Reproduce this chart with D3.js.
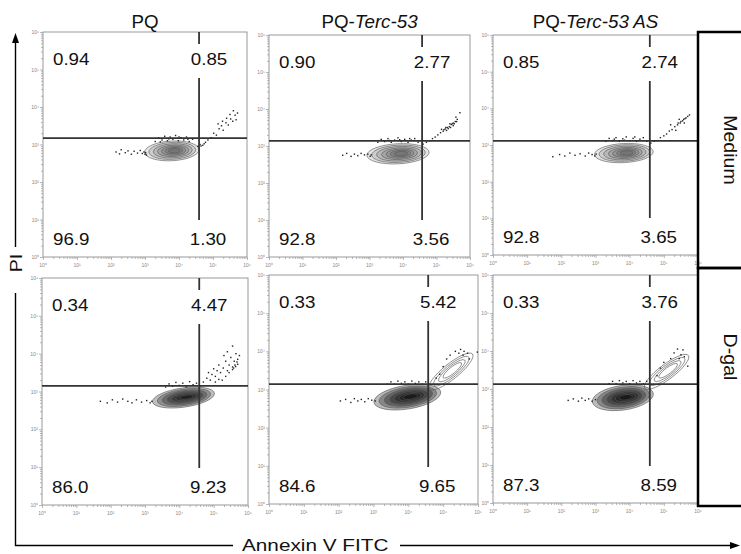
<!DOCTYPE html>
<html><head><meta charset="utf-8">
<script src="https://cdn.jsdelivr.net/npm/d3@7"></script>
<style>body{margin:0;background:#fff}svg{display:block}</style>
</head><body><svg id="c" width="741" height="554"></svg>
<script>
// ================= DATA (log10 decades) =================
const columnsPlain  = ["PQ", "PQ-", "PQ-"];
const columnsItalic = ["", "Terc-53", "Terc-53 AS"];
const rowLabels = ["Medium", "D-gal"];
const xAxisTitle = "Annexin V FITC";
const yAxisTitle = "PI";
const decades = [0, 1, 2, 3, 4, 5, 6];
const tickLabels = ["10⁰", "10¹", "10²", "10³", "10⁴", "10⁵", "10⁶"];
// panel order: Medium PQ, Medium PQ-Terc-53, Medium PQ-Terc-53 AS, D-gal PQ, D-gal PQ-Terc-53, D-gal PQ-Terc-53 AS
const quadUL = ["0.94", "0.90", "0.85", "0.34", "0.33", "0.33"];
const quadUR = ["0.85", "2.77", "2.74", "4.47", "5.42", "3.76"];
const quadLL = ["96.9", "92.8", "92.8", "86.0", "84.6", "87.3"];
const quadLR = ["1.30", "3.56", "3.65", "9.23", "9.65", "8.59"];
const gateX = [4.59, 4.57, 4.59, 4.58, 4.57, 4.59];
const gateY = [3.17, 3.14, 3.11, 3.15, 3.14, 3.13];
// main population contour: [centre x, centre y, half-width, half-height, tilt deg]
const mainPop = [
  [3.79, 2.83, 0.80, 0.29, -3],
  [3.85, 2.79, 0.93, 0.30, -3],
  [3.83, 2.78, 0.86, 0.28, -3],
  [4.12, 2.84, 0.91, 0.28, -8],
  [3.97, 2.80, 0.97, 0.34, -9],
  [3.80, 2.77, 0.90, 0.36, -8]
];
// second (late apoptotic) population
const lobePop = [null, null, null, null,
  [5.22, 3.47, 0.80, 0.22, -39],
  [5.08, 3.45, 0.80, 0.22, -37]
];
const dotsA = [[2.15,2.8],[2.25,2.75],[2.3,2.86],[2.42,2.78],[2.5,2.83],[2.6,2.74],[2.68,2.82],[2.78,2.77],[2.86,2.84],[2.92,2.76],[2.97,2.8],[3.0,2.74],[3.02,2.78],[3.04,2.72],
  [3.3,3.08],[3.4,3.18],[3.5,3.12],[3.58,3.22],[3.66,3.1],[3.74,3.2],[3.82,3.14],[3.9,3.24],[3.98,3.1],[4.06,3.18],[4.14,3.12],[4.22,3.2],[4.3,3.08],[4.4,3.14],[3.45,3.07],[3.7,3.15],[4.0,3.2],[4.26,3.14],
  [4.55,2.95],[4.62,3.0],[4.65,2.96],[4.7,2.98],[4.74,3.02],[4.78,3.06],[4.85,3.12],[4.95,3.18],[5.02,3.3],[5.1,3.25],[5.18,3.42],[5.25,3.5],[5.3,3.38],[5.38,3.58],[5.45,3.52],[5.52,3.68],[5.58,3.62],[5.65,3.78],[5.72,3.84],[5.6,3.9],[5.4,3.7],[5.28,3.62],[5.15,3.55],[5.5,3.8],[5.68,3.66]];
const dotsB = [[2.2,2.75],[2.32,2.8],[2.45,2.72],[2.55,2.78],[2.65,2.74],[2.75,2.8],[2.85,2.76],[2.95,2.78],[3.02,2.72],[3.05,2.76],
  [3.25,3.1],[3.35,3.18],[3.45,3.12],[3.55,3.2],[3.65,3.1],[3.75,3.16],[3.85,3.22],[3.95,3.12],[4.05,3.18],[4.15,3.1],[4.25,3.16],[4.35,3.2],[4.45,3.1],[3.6,3.15],[3.9,3.17],[4.2,3.2],
  [4.6,3.05],[4.7,3.1],[4.8,3.14],[4.88,3.2],[4.96,3.24],[5.04,3.3],[5.12,3.36],[5.2,3.4],[5.26,3.46],[5.32,3.5],[5.38,3.52],[5.44,3.58],[5.5,3.62],[5.56,3.66],[5.62,3.72],[5.3,3.42],[5.4,3.6],[5.5,3.55],[5.15,3.45],[5.58,3.78],[5.7,3.9],
  [5.35,3.47],[5.42,3.5],[5.47,3.6],[5.53,3.6],[5.6,3.66],[5.28,3.5],[5.22,3.44]];
const dotsC = [[1.75,2.68],[1.95,2.74],[2.1,2.7],[2.25,2.78],[2.4,2.72],[2.55,2.76],[2.7,2.7],[2.8,2.78],[2.9,2.74],[2.98,2.7],[3.02,2.75],
  [3.3,3.1],[3.4,3.18],[3.5,3.12],[3.6,3.2],[3.7,3.1],[3.8,3.17],[3.9,3.22],[4.0,3.12],[4.1,3.18],[4.2,3.1],[4.3,3.16],[4.4,3.2],[4.5,3.1],[3.55,3.16],[3.85,3.13],[4.15,3.22],
  [4.62,3.05],[4.72,3.1],[4.82,3.12],[4.9,3.2],[5.0,3.25],[5.08,3.3],[5.16,3.38],[5.24,3.42],[5.32,3.5],[5.4,3.55],[5.48,3.6],[5.55,3.66],[5.62,3.72],[5.7,3.78],[5.75,3.82],[5.45,3.7],[5.6,3.6],[5.35,3.4],[5.2,3.55],
  [5.42,3.6],[5.5,3.64],[5.58,3.7],[5.65,3.74]];
const dotsD = [[1.7,2.74],[1.9,2.7],[2.05,2.78],[2.2,2.72],[2.35,2.8],[2.5,2.74],[2.62,2.7],[2.75,2.78],[2.9,2.72],[3.05,2.76],[3.15,2.7],[3.2,2.74],
  [3.6,3.12],[3.7,3.2],[3.8,3.14],[3.9,3.24],[4.0,3.16],[4.1,3.22],[4.2,3.12],[4.3,3.26],[4.4,3.18],[4.5,3.22],[4.6,3.14],
  [4.7,3.25],[4.8,3.35],[4.9,3.3],[4.95,3.45],[5.05,3.4],[5.1,3.55],[5.15,3.7],[5.2,3.5],[5.28,3.62],[5.35,3.8],[5.4,3.55],[5.45,3.7],[5.5,3.9],[5.55,3.65],[5.6,3.8],[5.65,4.0],[5.7,3.85],[5.75,3.95],[5.3,3.95],[5.4,4.05],[5.0,3.6],[4.85,3.5],[5.25,3.3],[5.35,3.4],[5.45,3.5],[5.55,3.58],[5.62,3.7],[5.68,3.78],[5.55,4.2],
  [5.05,3.25],[5.15,3.32],[5.58,3.62],[5.64,3.66],[5.7,3.72]];
const dotsE = [[2.05,2.7],[2.2,2.74],[2.35,2.66],[2.45,2.76],[2.55,2.7],[2.65,2.74],[2.75,2.68],[2.85,2.76],[2.95,2.72],[3.05,2.7],
  [3.4,3.14],[3.5,3.2],[3.6,3.14],[3.7,3.22],[3.8,3.16],[3.9,3.2],[4.0,3.14],[4.1,3.22],[4.2,3.16],[4.3,3.2],[4.4,3.14],[4.5,3.2],
  [5.2,3.9],[5.35,4.0],[5.5,4.05],[5.6,4.0],[5.7,3.95],[5.1,3.8],[5.0,3.6],[5.45,3.95],[5.75,3.8],[4.9,3.4],[4.8,3.3],[5.57,3.9],[5.98,3.98]];
const dotsF = [[2.2,2.7],[2.35,2.74],[2.5,2.68],[2.6,2.76],[2.7,2.7],[2.8,2.74],[2.9,2.68],[3.0,2.72],
  [3.4,3.14],[3.5,3.2],[3.6,3.14],[3.7,3.22],[3.8,3.16],[3.9,3.2],[4.0,3.14],[4.1,3.22],[4.2,3.16],[4.3,3.2],[4.4,3.14],[4.5,3.2],
  [5.3,3.95],[5.4,4.05],[5.5,3.9],[5.56,4.03],[5.6,3.85],[5.0,3.7],[5.2,3.8],[4.9,3.55],[5.7,3.6],[5.45,3.8],[4.8,3.35]];
const dotSets = [dotsA, dotsB, dotsC, dotsD, dotsE, dotsF];

// ================= LAYOUT / STYLE =================
const panelBoxes = [
  [43, 32, 247, 257], [269, 35, 470, 257], [493, 35, 698, 255],
  [42, 278, 248, 505], [269, 275, 478, 504], [493, 275, 698, 503]
];
const ringFill = [0.1, 0.1, 0.1, 0.25, 0.27, 0.27];
const FONT = "'Liberation Sans', Arial, Helvetica, sans-serif";
const svg = d3.select("#c");

function stretch(sel, f) {
  sel.each(function () {
    const w = this.getComputedTextLength();
    this.setAttribute("textLength", w * f);
    this.setAttribute("lengthAdjust", "spacingAndGlyphs");
  });
}

const minorVals = [];
decades.slice(0, 6).forEach(d => [2,3,4,5,6,7,8,9].forEach(k => minorVals.push(d + Math.log10(k))));

panelBoxes.forEach((b, i) => {
  const [L, T, R, B] = b;
  const x = d3.scaleLinear().domain([0, 6]).range([L, R]);
  const y = d3.scaleLinear().domain([0, 6]).range([B, T]);
  const g = svg.append("g");

  const axes = [
    [d3.axisBottom(x).tickValues(minorVals).tickSize(2).tickFormat(""), `translate(0,${B})`],
    [d3.axisBottom(x).tickValues(decades).tickSize(3).tickFormat(""), `translate(0,${B})`],
    [d3.axisLeft(y).tickValues(minorVals).tickSize(2).tickFormat(""), `translate(${L},0)`],
    [d3.axisLeft(y).tickValues(decades).tickSize(3).tickFormat(""), `translate(${L},0)`]
  ];
  axes.forEach(([ax, tr]) => {
    const a = g.append("g").attr("transform", tr).call(ax);
    a.select(".domain").remove();
    a.selectAll("line").attr("stroke", "#888").attr("stroke-width", 0.6);
  });
  g.selectAll(".xl").data(decades).join("text")
    .attr("x", d => x(d)).attr("y", B + 10).attr("text-anchor", "middle")
    .attr("font-size", 5).attr("fill", "#888").attr("font-family", FONT)
    .text((d, j) => tickLabels[j]);
  g.selectAll(".yl").data(decades).join("text")
    .attr("x", L - 4).attr("y", d => y(d) + 2).attr("text-anchor", "end")
    .attr("font-size", 5).attr("fill", "#888").attr("font-family", FONT)
    .text((d, j) => tickLabels[j]);

  g.append("rect").attr("x", L).attr("y", T).attr("width", R - L).attr("height", B - T)
    .attr("fill", "none").attr("stroke", "#999").attr("stroke-width", 1);

  const drawPop = (p, scales, fillA) => {
    const [cx, cy, rx, ry, rot] = p;
    const px = x(cx), py = y(cy);
    const prx = x(cx + rx) - px, pry = (x(cx + ry) - x(cx));
    scales.forEach(s => {
      g.append("ellipse").attr("cx", px + (1 - s) * prx * 0.12).attr("cy", py)
        .attr("rx", prx * s).attr("ry", pry * s)
        .attr("transform", `rotate(${rot},${px},${py})`)
        .attr("fill", "#000").attr("fill-opacity", fillA)
        .attr("stroke", "#555").attr("stroke-width", 0.6);
    });
  };
  drawPop(mainPop[i], [1, 0.86, 0.72, 0.58, 0.45, 0.33, 0.22], ringFill[i]);
  if (lobePop[i]) drawPop(lobePop[i], [1, 0.8, 0.6, 0.42], 0);

  g.selectAll(".dot").data(dotSets[i]).join("rect")
    .attr("x", d => x(d[0]) - 0.7).attr("y", d => y(d[1]) - 0.7)
    .attr("width", 1.4).attr("height", 1.4).attr("fill", "#222");

  const gx = x(gateX[i]), gy = y(gateY[i]);
  g.append("line").attr("x1", L).attr("x2", R).attr("y1", gy).attr("y2", gy)
    .attr("stroke", "#333").attr("stroke-width", 1.8);
  g.append("line").attr("x1", gx).attr("x2", gx).attr("y1", T).attr("y2", T + 12)
    .attr("stroke", "#333").attr("stroke-width", 1.8);
  g.append("line").attr("x1", gx).attr("x2", gx).attr("y1", T + 46).attr("y2", B - 37)
    .attr("stroke", "#333").attr("stroke-width", 1.8);

  const lab = (txt, xx, yy, anchor) => g.append("text").attr("x", xx).attr("y", yy)
    .attr("text-anchor", anchor).attr("font-size", 16).attr("font-family", FONT)
    .attr("fill", "#111").text(txt);
  stretch(lab(quadUL[i], L + 10, T + 33, "start"), 1.17);
  stretch(lab(quadUR[i], gx + 10, T + 33, "middle"), 1.17);
  stretch(lab(quadLL[i], L + 10, B - 12, "start"), 1.17);
  stretch(lab(quadLR[i], gx + 9, B - 12, "middle"), 1.17);
});

[0, 1, 2].forEach(c => {
  const b = panelBoxes[c];
  const t = svg.append("text").attr("x", (b[0] + b[2]) / 2).attr("y", 28)
    .attr("text-anchor", "middle").attr("font-size", 17.5).attr("font-family", FONT).attr("fill", "#111");
  t.append("tspan").text(columnsPlain[c]);
  if (columnsItalic[c]) t.append("tspan").attr("font-style", "italic").text(columnsItalic[c]);
  stretch(t, 1.07);
});

const boxX = 698;
[[32, 268], [268, 506]].forEach(([t, bt], r) => {
  svg.append("path").attr("d", `M741,${t}H${boxX}V${bt}H741`).attr("fill", "none")
    .attr("stroke", "#000").attr("stroke-width", 2.5);
  const tx = svg.append("text").attr("transform", `translate(724,${(t + bt) / 2 + (r ? -30 : 0)}) rotate(90)`)
    .attr("text-anchor", "middle").attr("font-size", 17.5).attr("font-family", FONT).attr("fill", "#111")
    .text(rowLabels[r]);
  stretch(tx, 1.12);
});

const ax = svg.append("g").attr("stroke", "#000").attr("stroke-width", 1.4).attr("fill", "none");
ax.append("path").attr("d", "M15.5,42V247M15.5,293V545.5H233M400,545.5H731");
svg.append("path").attr("d", "M15.5,33L12,43H19Z").attr("fill", "#000");
svg.append("path").attr("d", "M740,545.5L730,542V549Z").attr("fill", "#000");
const pi = svg.append("text").attr("transform", "translate(22,263) rotate(-90)")
  .attr("text-anchor", "middle").attr("font-size", 17).attr("font-family", FONT).attr("fill", "#111")
  .text(yAxisTitle);
stretch(pi, 1.15);
const xt = svg.append("text").attr("x", 242).attr("y", 551)
  .attr("font-size", 17).attr("font-family", FONT).attr("fill", "#111").text(xAxisTitle);
stretch(xt, 1.22);
</script></body></html>
